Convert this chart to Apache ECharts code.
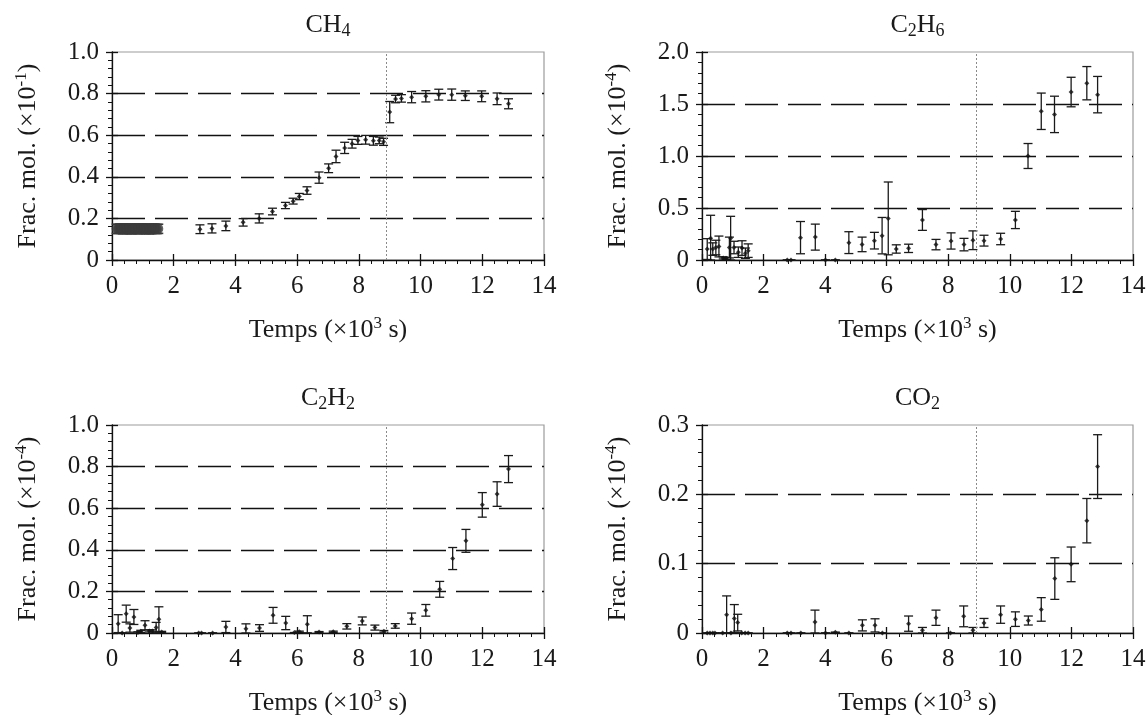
<!DOCTYPE html>
<html><head><meta charset="utf-8">
<script src="https://cdn.jsdelivr.net/npm/echarts@6/dist/echarts.min.js"></script>
<style>html,body{margin:0;padding:0;background:#fff}#c{width:1148px;height:715px}</style>
</head><body><div id="c"></div>
<script>
// ---------- data (x in 10^3 s, values in axis units, err = half bar length) ----------
const xTickLabels = ['0','2','4','6','8','10','12','14'];
const ch4Ticks  = ['0','0.2','0.4','0.6','0.8','1.0'];
const c2h6Ticks = ['0','0.5','1.0','1.5','2.0'];
const c2h2Ticks = ['0','0.2','0.4','0.6','0.8','1.0'];
const co2Ticks  = ['0','0.1','0.2','0.3'];
const markerTime = 8.9;

// CH4 dense early block
const ch4BlobX = [0.15,0.2,0.25,0.3,0.35,0.4,0.45,0.5,0.55,0.6,0.65,0.7,0.75,0.8,0.85,0.9,0.95,1.0,1.05,1.1,1.15,1.2,1.25,1.3,1.35,1.4,1.45,1.5];
const ch4BlobY = [0.150,0.149,0.151,0.150,0.148,0.150,0.151,0.149,0.150,0.148,0.149,0.150,0.151,0.150,0.149,0.148,0.150,0.151,0.150,0.149,0.150,0.148,0.149,0.150,0.151,0.150,0.149,0.150];
const ch4BlobErr = [0.022,0.022,0.022,0.022,0.022,0.022,0.022,0.022,0.022,0.022,0.022,0.022,0.022,0.022,0.022,0.022,0.022,0.022,0.022,0.022,0.022,0.022,0.022,0.022,0.022,0.022,0.022,0.022];
// CH4 (x10^-1)
const ch4X   = [2.85,3.24,3.69,4.25,4.77,5.20,5.62,5.87,6.07,6.32,6.71,7.02,7.26,7.54,7.78,7.97,8.22,8.47,8.66,8.80,9.00,9.19,9.38,9.71,10.17,10.59,11.01,11.45,11.98,12.48,12.85];
const ch4Y   = [0.148,0.152,0.164,0.181,0.200,0.233,0.262,0.283,0.305,0.334,0.396,0.441,0.498,0.539,0.559,0.575,0.578,0.573,0.575,0.568,0.711,0.774,0.777,0.783,0.787,0.795,0.795,0.790,0.787,0.775,0.751];
const ch4Err = [0.021,0.022,0.023,0.018,0.022,0.016,0.015,0.014,0.015,0.018,0.027,0.021,0.030,0.027,0.021,0.019,0.021,0.021,0.016,0.017,0.051,0.018,0.018,0.027,0.027,0.026,0.027,0.023,0.026,0.028,0.024];
// C2H6 (x10^-4)
const c2h6X   = [0.17,0.28,0.35,0.45,0.55,0.69,0.78,0.89,0.93,1.04,1.18,1.30,1.41,1.50,2.77,2.89,3.20,3.68,4.01,4.33,4.77,5.20,5.60,5.85,6.05,6.31,6.71,7.16,7.60,8.09,8.51,8.80,9.16,9.70,10.18,10.59,11.02,11.45,11.99,12.50,12.85];
const c2h6Y   = [0.105,0.21,0.105,0.12,0.13,0.02,0.016,0.12,0.21,0.12,0.075,0.115,0.065,0.09,0,0,0.215,0.22,0,0,0.167,0.15,0.186,0.234,0.40,0.106,0.112,0.385,0.148,0.183,0.148,0.19,0.186,0.202,0.385,1.00,1.43,1.40,1.615,1.70,1.59];
const c2h6Err = [0.10,0.22,0.06,0.07,0.10,0.01,0.01,0.10,0.21,0.06,0.05,0.07,0.05,0.065,0,0,0.155,0.125,0,0,0.105,0.07,0.08,0.175,0.35,0.04,0.04,0.10,0.05,0.078,0.06,0.09,0.052,0.055,0.083,0.12,0.175,0.175,0.142,0.16,0.175];
// C2H2 (x10^-4)
const c2h2X   = [0.20,0.33,0.46,0.58,0.71,0.84,0.93,1.07,1.21,1.31,1.43,1.52,1.61,2.81,2.90,3.26,3.69,4.34,4.78,5.22,5.63,5.91,6.07,6.33,6.71,7.17,7.61,8.11,8.52,8.81,9.18,9.71,10.17,10.62,11.04,11.47,12.00,12.48,12.85];
const c2h2Y   = [0.045,0,0.093,0.024,0.077,0.003,0.008,0.037,0.010,0.010,0.026,0.066,0.005,0,0,0,0.029,0.021,0.024,0.085,0.048,0.002,0.006,0.042,0.005,0.006,0.032,0.058,0.026,0.008,0.034,0.069,0.109,0.210,0.358,0.443,0.616,0.668,0.788];
const c2h2Err = [0.043,0,0.041,0.02,0.036,0.003,0.005,0.022,0.005,0.005,0.025,0.06,0.003,0,0,0,0.027,0.023,0.016,0.038,0.032,0,0.003,0.041,0.002,0.003,0.013,0.019,0.012,0.004,0.011,0.027,0.028,0.038,0.053,0.055,0.059,0.059,0.065];
// CO2 (x10^-4)
const co2X   = [0.17,0.26,0.35,0.42,0.67,0.80,0.94,1.05,1.16,1.29,1.40,1.50,2.77,2.89,3.21,3.67,4.01,4.33,4.77,5.21,5.62,5.86,6.71,7.16,7.60,8.07,8.50,8.80,9.16,9.70,10.18,10.60,11.02,11.46,11.99,12.50,12.85];
const co2Y   = [0,0,0,0,0,0.0265,0,0.021,0.015,0,0,0,0,0,0,0.016,0,0.001,0,0.011,0.011,0,0.0135,0.004,0.022,0,0.024,0.004,0.0145,0.0265,0.020,0.018,0.034,0.0785,0.099,0.162,0.240];
const co2Err = [0,0,0,0,0,0.027,0,0.020,0.012,0,0,0,0,0,0,0.017,0,0,0,0.008,0.0095,0,0.011,0.004,0.011,0,0.015,0.004,0.0065,0.0125,0.0105,0.0065,0.017,0.030,0.025,0.032,0.046];

// ---------- chart ----------
const FONT = 'Liberation Serif';
const TXT = '#1a1a1a';
const zip = (xs, ys, es) => xs.map((x, i) => es ? [x, ys[i], es[i]] : [x, ys[i]]);

const panels = [
  {title:'{m|CH}{sub|4}', x:zip(ch4X,ch4Y,ch4Err), ymax:1.0, interval:0.2, ticks:ch4Ticks, exp:'-1', blob:true},
  {title:'{m|C}{sub|2}{m|H}{sub|6}', x:zip(c2h6X,c2h6Y,c2h6Err), ymax:2.0, interval:0.5, ticks:c2h6Ticks, exp:'-4'},
  {title:'{m|C}{sub|2}{m|H}{sub|2}', x:zip(c2h2X,c2h2Y,c2h2Err), ymax:1.0, interval:0.2, ticks:c2h2Ticks, exp:'-4'},
  {title:'{m|CO}{sub|2}', x:zip(co2X,co2Y,co2Err), ymax:0.3, interval:0.1, ticks:co2Ticks, exp:'-4'}
];
const grids = [
  {left:112, top:52, width:432, height:208},
  {left:702, top:52, width:431, height:208},
  {left:112, top:425, width:432, height:208},
  {left:702, top:425, width:431, height:208}
];

function makeErr(color, hw, lw) {
  return function (params, api) {
    const x = api.value(0), y = api.value(1), e = api.value(2);
    const lo = Math.max(y - e, 0), hi = y + e;
    const a = api.coord([x, lo]), b = api.coord([x, hi]);
    const st = {stroke: color, lineWidth: lw};
    return {type:'group', children:[
      {type:'line', shape:{x1:a[0], y1:a[1], x2:b[0], y2:b[1]}, style:st},
      {type:'line', shape:{x1:a[0]-hw, y1:a[1], x2:a[0]+hw, y2:a[1]}, style:st},
      {type:'line', shape:{x1:b[0]-hw, y1:b[1], x2:b[0]+hw, y2:b[1]}, style:st}
    ]};
  };
}

const option = {
  animation:false,
  backgroundColor:'#fff',
  title:[], grid:[], xAxis:[], yAxis:[], series:[]
};

const nameStyle = {
  fontFamily:FONT, fontSize:26, lineHeight:30, color:TXT,
  rich:{ sup:{fontFamily:FONT, fontSize:17, lineHeight:12, verticalAlign:'top', color:TXT} }
};

panels.forEach((p, i) => {
  const g = grids[i];
  option.grid.push(Object.assign({show:true, borderColor:'#9c9c9c', borderWidth:1.2, backgroundColor:'transparent', containLabel:false, outerBoundsMode:'none'}, g));
  option.title.push({
    text:p.title, left:g.left + g.width/2, top:g.top - 42, textAlign:'center', padding:0,
    textStyle:{fontFamily:FONT, fontSize:26, lineHeight:30, color:TXT, fontWeight:'normal',
      rich:{ m:{fontFamily:FONT, fontSize:26, lineHeight:30, color:TXT},
             sub:{fontFamily:FONT, fontSize:18, lineHeight:15, verticalAlign:'bottom', color:TXT} }}
  });
  option.xAxis.push({
    gridIndex:i, type:'value', min:0, max:14, interval:2, position:'bottom',
    axisLine:{show:true, onZero:false, lineStyle:{color:'#111', width:1.3}},
    axisTick:{show:true, inside:false, length:6, lineStyle:{color:'#111', width:1.3}},
    minorTick:{show:true, splitNumber:5, length:4, lineStyle:{color:'#111', width:1}},
    splitLine:{show:false},
    axisLabel:{margin:14, fontFamily:FONT, fontSize:25, color:TXT,
      formatter:(v) => xTickLabels[Math.round(v/2)]},
    name:'Temps (×10{sup|3} s)', nameLocation:'middle', nameGap:55, nameTextStyle:nameStyle
  });
  option.yAxis.push({
    gridIndex:i, type:'value', min:0, max:p.ymax, interval:p.interval, position:'left',
    axisLine:{show:true, onZero:false, lineStyle:{color:'#111', width:1.3}},
    axisTick:{show:true, inside:false, length:6, lineStyle:{color:'#111', width:1.3}},
    minorTick:{show:true, splitNumber:5, length:4, lineStyle:{color:'#111', width:1}},
    splitLine:{show:true, showMinLine:false, showMaxLine:false, lineStyle:{color:'#111', width:1.3, type:[33,10]}},
    axisLabel:{margin:13, fontFamily:FONT, fontSize:25, color:TXT,
      formatter:(v) => p.ticks[Math.round(v/p.interval)]},
    name:'Frac. mol. (×10{sup|' + p.exp + '})', nameLocation:'middle', nameRotate:90, nameGap:69, nameTextStyle:nameStyle
  });
});
panels.forEach((p, i) => {
  option.xAxis.push({
    gridIndex:i, type:'value', min:0, max:14, interval:2, position:'bottom', offset:0,
    axisLine:{show:false}, axisLabel:{show:false}, splitLine:{show:false},
    axisTick:{show:true, inside:true, length:6, lineStyle:{color:'#111', width:1.3}}
  });
  option.yAxis.push({
    gridIndex:i, type:'value', min:0, max:p.ymax, interval:p.interval, position:'left', offset:0,
    axisLine:{show:false}, axisLabel:{show:false}, splitLine:{show:false},
    axisTick:{show:true, inside:true, length:6, lineStyle:{color:'#111', width:1.3}}
  });
});

panels.forEach((p, i) => {
  if (p.blob) {
    option.series.push({
      type:'custom', xAxisIndex:i, yAxisIndex:i, renderItem:makeErr('#3c3c3c', 5, 1.6),
      data:zip(ch4BlobX, ch4BlobY, ch4BlobErr), z:3
    });
    option.series.push({
      type:'scatter', xAxisIndex:i, yAxisIndex:i, symbol:'circle', symbolSize:10,
      itemStyle:{color:'#3c3c3c'}, data:zip(ch4BlobX, ch4BlobY), z:4
    });
  }
  option.series.push({
    type:'custom', xAxisIndex:i, yAxisIndex:i, renderItem:makeErr('#1a1a1a', 4.5, 1.3),
    data:p.x, z:3
  });
  option.series.push({
    type:'scatter', xAxisIndex:i, yAxisIndex:i, symbol:'diamond', symbolSize:5,
    itemStyle:{color:'#111'}, data:p.x.map(d => [d[0], d[1]]), z:4,
    markLine:{silent:true, symbol:['none','none'], label:{show:false},
      lineStyle:{color:'#8a8a8a', width:1, type:[2,2]}, data:[{xAxis:markerTime}]}
  });
});

const chart = echarts.init(document.getElementById('c'), null, {renderer:'canvas'});
chart.setOption(option);
</script>
</body></html>
